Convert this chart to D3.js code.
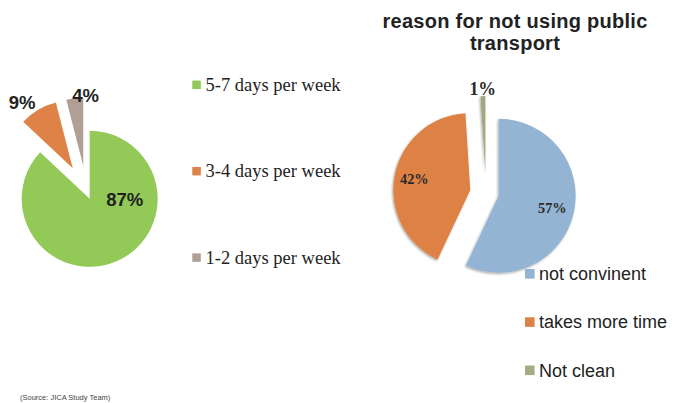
<!DOCTYPE html>
<html>
<head>
<meta charset="utf-8">
<script src="https://cdn.jsdelivr.net/npm/d3@7"></script>
<style>
  html, body { margin: 0; padding: 0; background: #fff; }
  svg { display: block; }
</style>
</head>
<body>
<svg id="chart" width="673" height="403"></svg>
<script>
// Trip frequency
const freqCategories = ["5-7 days per week", "3-4 days per week", "1-2 days per week"];
const freqValues = [87, 9, 4];
const freqLabels = ["87%", "9%", "4%"];

// Reasons for not using public transport
const reasonTitle = ["reason for not using public", "transport"];
const reasonCategories = ["not convinent", "takes more time", "Not clean"];
const reasonValues = [57, 42, 1];
const reasonLabels = ["57%", "42%", "1%"];

const sourceNote = "(Source: JICA Study Team)";

const svg = d3.select("#chart");

const defs = svg.append("defs");
const shadow = defs.append("filter").attr("id", "pieShadow")
  .attr("x", "-20%").attr("y", "-20%").attr("width", "140%").attr("height", "140%");
shadow.append("feDropShadow")
  .attr("dx", -1).attr("dy", 1.2).attr("stdDeviation", 1.2)
  .attr("flood-color", "#000").attr("flood-opacity", 0.35);

const rad = deg => deg * Math.PI / 180;
const pie = d3.pie().sort(null).value(d => d);

// ---- Left pie: trip frequency ----
const left = {
  cx: 86.5, cy: 191.5, r: 68,
  colors: ["#92c957", "#de8247", "#b19e95"],
  explode: [8, 27, 26],
  // label placement relative to each slice's tip: angle (deg), distance
  labelPos: [{ a: 90, d: 35 }, { a: -37.7, d: 83 }, { a: 2, d: 70 }]
};
const leftArc = d3.arc().innerRadius(0).outerRadius(left.r);
const leftG = svg.append("g").attr("transform", `translate(${left.cx},${left.cy})`);
const leftArcs = pie(freqValues);
leftArcs.forEach((d, i) => {
  const mid = (d.startAngle + d.endAngle) / 2;
  const [ox, oy] = d3.pointRadial(mid, left.explode[i]);
  const g = leftG.append("g").attr("transform", `translate(${ox},${oy})`);
  g.append("path").attr("d", leftArc(d)).attr("fill", left.colors[i]);
  const [lx, ly] = d3.pointRadial(rad(left.labelPos[i].a), left.labelPos[i].d);
  g.append("text")
    .attr("x", lx).attr("y", ly).attr("dy", "0.36em")
    .attr("text-anchor", "middle")
    .attr("font-family", "'Liberation Sans', Arial, sans-serif")
    .attr("font-weight", "bold").attr("font-size", 18.5)
    .attr("fill", "#231f20")
    .text(freqLabels[i]);
});

// Left legend
const leftLegend = svg.append("g");
const leftLegY = d3.scalePoint().domain(freqCategories).range([84.8, 257.6]);
freqCategories.forEach((c, i) => {
  const y = leftLegY(c);
  leftLegend.append("rect")
    .attr("x", 192.3).attr("y", y - 4.25).attr("width", 8.5).attr("height", 8.5)
    .attr("fill", left.colors[i]);
  leftLegend.append("text")
    .attr("x", 205.5).attr("y", y).attr("dy", "0.34em")
    .attr("font-family", "'Liberation Serif', 'Times New Roman', serif")
    .attr("font-size", 18.5).attr("fill", "#222")
    .text(c);
});

// ---- Right pie: reasons ----
const right = {
  cx: 486, cy: 193, r: 77,
  colors: ["#93b4d3", "#de8145", "#9eaa7e"],
  legendColors: ["#93b4d3", "#de8145", "#a4ac84"],
  explode: [13, 16, 20],
  labelDist: [55, 57, 84],
  labelSize: [14.3, 14.3, 17.8]
};
svg.append("g").selectAll("text").data(reasonTitle).join("text")
  .attr("x", 515).attr("y", (d, i) => 28 + i * 22)
  .attr("text-anchor", "middle")
  .attr("font-family", "'Liberation Sans', Arial, sans-serif")
  .attr("font-weight", "bold").attr("font-size", 20)
  .attr("letter-spacing", 0.27)
  .attr("fill", "#222")
  .text(d => d);

const rightArc = d3.arc().innerRadius(0).outerRadius(right.r);
const rightG = svg.append("g").attr("transform", `translate(${right.cx},${right.cy})`);
const rightArcs = pie(reasonValues);
const rightSlices = rightG.append("g").attr("filter", "url(#pieShadow)");
const rightLabels = rightG.append("g");
rightArcs.forEach((d, i) => {
  const mid = (d.startAngle + d.endAngle) / 2;
  const [ox, oy] = d3.pointRadial(mid, right.explode[i]);
  rightSlices.append("path")
    .attr("transform", `translate(${ox},${oy})`)
    .attr("d", rightArc(d)).attr("fill", right.colors[i]);
  const [lx, ly] = d3.pointRadial(mid, right.labelDist[i]);
  rightLabels.append("text")
    .attr("x", ox + lx).attr("y", oy + ly).attr("dy", "0.34em")
    .attr("text-anchor", "middle")
    .attr("font-family", "'Liberation Serif', 'Times New Roman', serif")
    .attr("font-weight", "bold").attr("font-size", right.labelSize[i])
    .attr("fill", "#2a2a2a")
    .text(reasonLabels[i]);
});

// Right legend
const rightLegend = svg.append("g");
const rightLegY = d3.scalePoint().domain(reasonCategories).range([273.8, 370.3]);
reasonCategories.forEach((c, i) => {
  const y = rightLegY(c);
  rightLegend.append("rect")
    .attr("x", 525).attr("y", y - 4.8).attr("width", 9.6).attr("height", 9.6)
    .attr("fill", right.legendColors[i]);
  rightLegend.append("text")
    .attr("x", 539).attr("y", y).attr("dy", "0.35em")
    .attr("font-family", "'Liberation Sans', Arial, sans-serif")
    .attr("font-size", 18).attr("fill", "#222")
    .text(c);
});

// Source note
svg.append("text")
  .attr("x", 20).attr("y", 400)
  .attr("font-family", "'Liberation Sans', Arial, sans-serif")
  .attr("font-size", 7.5).attr("fill", "#444")
  .text(sourceNote);
</script>
</body>
</html>
